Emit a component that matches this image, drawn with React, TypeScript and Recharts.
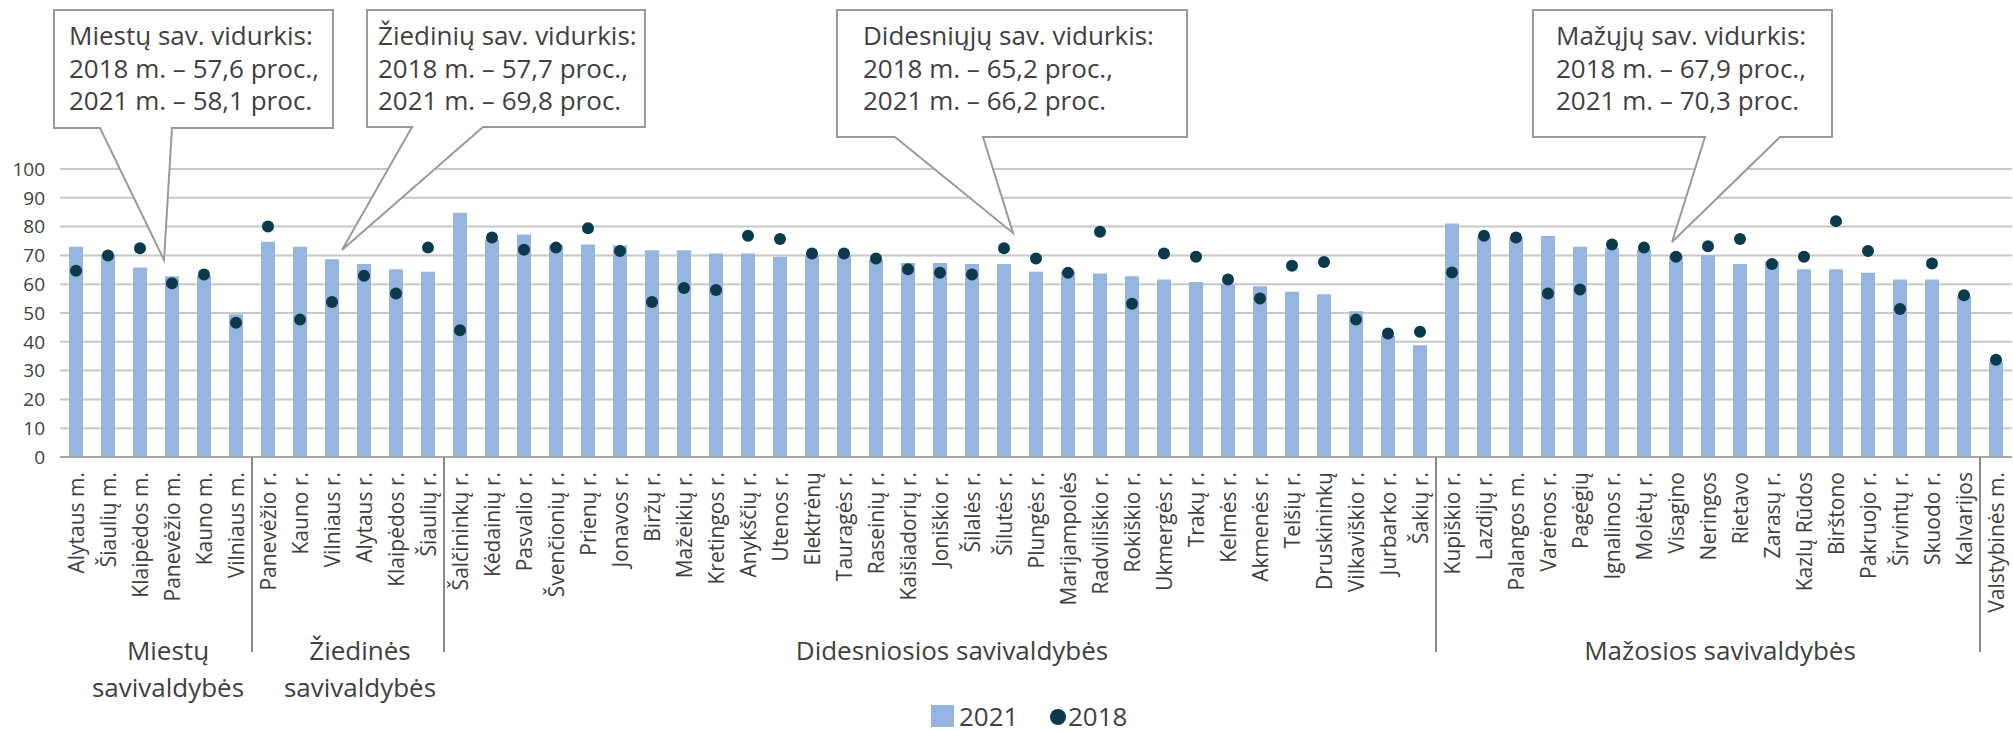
import { Bar, CartesianGrid, ComposedChart, Legend, Line, XAxis, YAxis } from "recharts";

const categories = [
  "Alytaus m.", "Šiaulių m.", "Klaipėdos m.", "Panevėžio m.", "Kauno m.", "Vilniaus m.",
  "Panevėžio r.", "Kauno r.", "Vilniaus r.", "Alytaus r.", "Klaipėdos r.", "Šiaulių r.",
  "Šalčininkų r.", "Kėdainių r.", "Pasvalio r.", "Švenčionių r.", "Prienų r.", "Jonavos r.",
  "Biržų r.", "Mažeikių r.", "Kretingos r.", "Anykščių r.", "Utenos r.", "Elektrėnų",
  "Tauragės r.", "Raseinių r.", "Kaišiadorių r.", "Joniškio r.", "Šilalės r.", "Šilutės r.",
  "Plungės r.", "Marijampolės", "Radviliškio r.", "Rokiškio r.", "Ukmergės r.", "Trakų r.",
  "Kelmės r.", "Akmenės r.", "Telšių r.", "Druskininkų", "Vilkaviškio r.", "Jurbarko r.",
  "Šakių r.", "Kupiškio r.", "Lazdijų r.", "Palangos m.", "Varėnos r.", "Pagėgių",
  "Ignalinos r.", "Molėtų r.", "Visagino", "Neringos", "Rietavo", "Zarasų r.",
  "Kazlų Rūdos", "Birštono", "Pakruojo r.", "Širvintų r.", "Skuodo r.", "Kalvarijos",
  "Valstybinės m.",
];

const share2021 = [
  73.0, 70.5, 65.8, 62.8, 63.0, 49.6,
  74.7, 73.0, 68.7, 67.0, 65.2, 64.3,
  84.8, 75.5, 77.3, 73.8, 73.8, 73.5,
  71.8, 71.8, 70.7, 70.7, 69.5, 70.0,
  70.0, 68.5, 67.4, 67.4, 67.0, 67.0,
  64.3, 64.5, 63.7, 62.8, 61.6, 60.8,
  60.0, 59.3, 57.4, 56.5, 50.6, 42.0,
  38.8, 81.1, 76.5, 76.0, 76.7, 73.0,
  72.5, 72.0, 70.0, 70.1, 67.0, 68.0,
  65.2, 65.2, 64.0, 61.6, 61.6, 56.0,
  33.0,
];

const share2018 = [
  64.7, 70.0, 72.5, 60.3, 63.4, 46.6,
  80.0, 47.7, 53.8, 62.9, 56.8, 72.7,
  44.0, 76.2, 72.0, 72.7, 79.4, 71.5,
  53.8, 58.7, 58.0, 76.8, 75.7, 70.7,
  70.7, 68.9, 65.2, 64.0, 63.4, 72.5,
  68.9, 64.0, 78.2, 53.2, 70.7, 69.5,
  61.6, 55.0, 66.4, 67.7, 47.7, 42.9,
  43.5, 64.1, 76.8, 76.2, 56.8, 58.2,
  73.8, 72.7, 69.5, 73.2, 75.7, 67.0,
  69.5, 81.9, 71.5, 51.4, 67.2, 56.2,
  33.8,
];

const groupNames = [
  ["Miestų", "savivaldybės"],
  ["Žiedinės", "savivaldybės"],
  ["Didesniosios savivaldybės"],
  ["Mažosios savivaldybės"],
  [],
];
const groupSizes = [6, 6, 31, 17, 1];

const yTicks = [0, 10, 20, 30, 40, 50, 60, 70, 80, 90, 100];

const calloutTexts = [
  ["Miestų sav. vidurkis:", "2018 m. – 57,6 proc.,", "2021 m. – 58,1 proc."],
  ["Žiedinių sav. vidurkis:", "2018 m. – 57,7 proc.,", "2021 m. – 69,8 proc."],
  ["Didesniųjų sav. vidurkis:", "2018 m. – 65,2 proc.,", "2021 m. – 66,2 proc."],
  ["Mažųjų sav. vidurkis:", "2018 m. – 67,9 proc.,", "2021 m. – 70,3 proc."],
];

const W = 2013;
const H = 731;
const PLOT_LEFT = 60;
const PLOT_RIGHT = 2012;
const BAND = (PLOT_RIGHT - PLOT_LEFT) / categories.length;
const FONT = '"Open Sans", sans-serif';
const TEXT = "#404040";
const BAR = "#95b5e0";
const DOT = "#0b3a4c";
const LEGEND_H = 36;

const groupStarts = groupSizes.map((_, i) => groupSizes.slice(0, i).reduce((a, b) => a + b, 0));

const data = categories.map((name, i) => ({ name, y2021: share2021[i], y2018: share2018[i] }));

// callout boxes: box rect, pointer base on the bottom edge, tip
const boxes = [
  { x: 54, y: 10, w: 279, h: 118, tx: 69, b1: 100, b2: 172, tip: [164, 260] },
  { x: 367, y: 10, w: 278, h: 117, tx: 378, b1: 412, b2: 483, tip: [342, 250] },
  { x: 837, y: 10, w: 350, h: 127, tx: 863, b1: 895, b2: 983, tip: [1013, 233] },
  { x: 1533, y: 10, w: 299, h: 127, tx: 1556, b1: 1705, b2: 1780, tip: [1672, 242] },
];

const CategoryTick = (props: any) => {
  const { x, y, index, payload } = props;
  const gi = groupStarts.indexOf(index);
  const left = x - BAND / 2;
  return (
    <g>
      {gi > 0 && (
        <line x1={left} x2={left} y1={y} y2={y + 195} stroke="#8a8a8a" strokeWidth={2} />
      )}
      {gi >= 0 &&
        groupNames[gi].map((t, k) => (
          <text
            key={k}
            x={left + (groupSizes[gi] * BAND) / 2 + 12}
            y={y + 203 + k * 37}
            textAnchor="middle"
            fontFamily={FONT}
            fontSize={26}
            fill={TEXT}
          >
            {t}
          </text>
        ))}
      <text
        transform={`rotate(-90 ${x} ${y + 15})`}
        x={x}
        y={y + 15}
        textAnchor="end"
        dominantBaseline="central"
        fontFamily={FONT}
        fontSize={21}
        fill={TEXT}
      >
        {payload.value}
      </text>
    </g>
  );
};

const LegendContent = () => (
  <svg width={PLOT_RIGHT} height={LEGEND_H} style={{ display: "block", overflow: "visible" }}>
    <rect x={931} y={10} width={23} height={22} fill={BAR} />
    <text x={959} y={31} fontFamily={FONT} fontSize={26} fill={TEXT}>2021</text>
    <circle cx={1058} cy={22} r={8} fill={DOT} />
    <text x={1068} y={31} fontFamily={FONT} fontSize={26} fill={TEXT}>2018</text>
  </svg>
);

const Callouts = () => (
  <svg width={W} height={H} style={{ position: "absolute", left: 0, top: 0, pointerEvents: "none" }}>
    {boxes.map((b, i) => {
      const bottom = b.y + b.h;
      const d = `M${b.x},${b.y} H${b.x + b.w} V${bottom} H${b.b2} L${b.tip[0]},${b.tip[1]} L${b.b1},${bottom} H${b.x} Z`;
      return (
        <g key={i}>
          <path d={d} fill="#fff" stroke="#9a9a9a" strokeWidth={2} />
          {calloutTexts[i].map((t, k) => (
            <text key={k} x={b.tx} y={45 + k * 32.5} fontFamily={FONT} fontSize={26} fill={TEXT}>
              {t}
            </text>
          ))}
        </g>
      );
    })}
  </svg>
);

export default function App() {
  return (
    <div style={{ position: "absolute", left: 0, top: 0, width: W, height: H, background: "#fff" }}>
      <ComposedChart
        width={W}
        height={H}
        data={data}
        margin={{ top: 169, right: W - PLOT_RIGHT, bottom: 0, left: 0 }}
        barCategoryGap={0}
      >
        <XAxis
          dataKey="name"
          interval={0}
          height={274 - LEGEND_H}
          tickLine={false}
          tickSize={0}
          tickMargin={0}
          axisLine={{ stroke: "#a6a6a6", strokeWidth: 2 }}
          tick={<CategoryTick />}
        />
        <YAxis
          width={PLOT_LEFT}
          domain={[0, 100]}
          ticks={yTicks}
          axisLine={false}
          tickLine={false}
          tickSize={0}
          tickMargin={15}
          tick={{ fill: TEXT, fontSize: 19, fontFamily: FONT }}
        />
        <Bar dataKey="y2021" name="2021" fill={BAR} barSize={14} isAnimationActive={false} />
        <CartesianGrid vertical={false} stroke="#c8c8c8" strokeWidth={2} />
        <Line
          dataKey="y2018"
          name="2018"
          stroke="none"
          dot={{ r: 6, fill: DOT, stroke: "none" }}
          activeDot={false}
          legendType="circle"
          isAnimationActive={false}
        />
        <Legend verticalAlign="bottom" height={LEGEND_H} content={<LegendContent />} />
      </ComposedChart>
      <Callouts />
    </div>
  );
}
